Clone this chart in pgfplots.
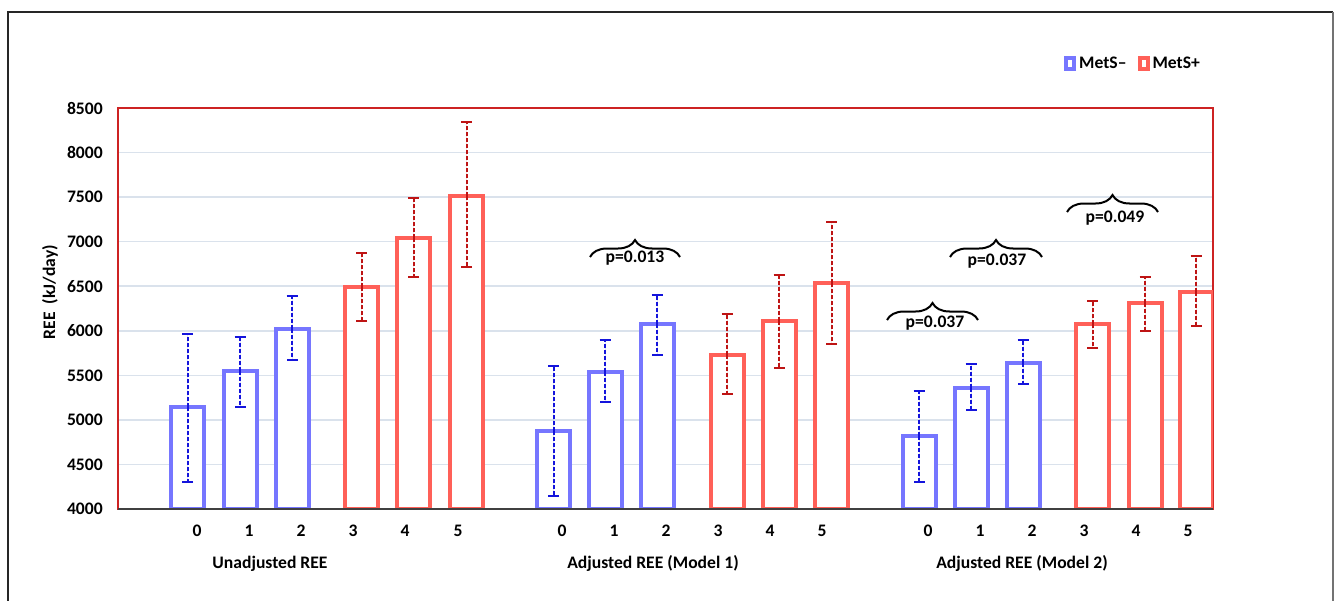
\documentclass[border=0pt]{standalone}
\usepackage{fontspec}
\setmainfont{Carlito}
\usepackage{pgfplots}
\pgfplotsset{compat=1.18}
\usetikzlibrary{decorations.pathreplacing}
\definecolor{barblue}{RGB}{118,118,255}
\definecolor{barred}{RGB}{255,96,88}
\definecolor{errblue}{RGB}{20,20,220}
\definecolor{errred}{RGB}{190,20,20}
\definecolor{framered}{RGB}{205,35,35}
\definecolor{gridc}{RGB}{218,226,236}
\begin{document}
\fontsize{8.8}{10}\selectfont\bfseries
\begin{tikzpicture}[x=0.5pt,y=0.5pt]
\useasboundingbox (0,0) rectangle (1337,600);
\draw[line width=1pt, black!85] (8,-5) -- (8,588) -- (1333,588);
\draw[line width=1pt, black!55] (1333,588) -- (1333,-5);
\begin{axis}[
  at={(59pt,45.5pt)}, anchor=south west,
  scale only axis, width=547.5pt, height=200.5pt,
  xmin=118, xmax=1213, ymin=4000, ymax=8500,
  ytick={4000,4500,...,8500},
  xtick={197,249,301,353,405,458,562,614,666,718,770,822,928,980,1032,1084,1136,1188},
  xticklabels={0,1,2,3,4,5,0,1,2,3,4,5,0,1,2,3,4,5},
  major tick length=0pt,
  ymajorgrids, grid style={gridc, line width=0.8pt},
  axis line style={framered, line width=0.9pt},
  /pgf/number format/assume math mode=true,
  /pgf/number format/1000 sep={},
  yticklabel style={xshift=-4.5pt},
  xticklabel style={anchor=base, yshift=-13.8pt},
  ylabel={REE\ \ (kJ/day)},
  ylabel style={at={(rel axis cs:-0.0621,0.541)}, anchor=center},
  clip mode=individual,
  legend style={at={(rel axis cs:0.9274,1.1085)}, anchor=center, draw=none, fill=none,
    legend columns=2, /tikz/every even column/.append style={column sep=4pt},
    nodes={inner sep=1.5pt}},
]
\addplot[ybar, bar width=16.5pt, bar shift=0pt, draw=barblue, fill=white, line width=2pt,
  legend image code/.code={\draw[draw=barblue, line width=2pt, fill=white] (0pt,-2.5pt) rectangle (4pt,3pt);},
  error bars/.cd, y dir=both, y explicit,
  error bar style={errblue, line width=1pt, dash pattern=on 2pt off 1pt},
  error mark options={rotate=90, mark size=2.75pt, line width=1pt, errblue, solid}]
  table[x=x, y=y, y error plus=ep, y error minus=em] {
x y ep em
187.5 5145 819 842
240 5548 382 403
292 6020 370 348
553.5 4875 730 729
605 5537 359 337
657 6076 325 348
919 4819 505 516
971 5358 269 247
1023 5638 258 235
};
\addlegendentry{MetS–}
\addplot[ybar, bar width=16.5pt, bar shift=0pt, draw=barred, fill=white, line width=2pt,
  legend image code/.code={\draw[draw=barred, line width=2pt, fill=white] (0pt,-2.5pt) rectangle (4pt,3pt);},
  error bars/.cd, y dir=both, y explicit,
  error bar style={errred, line width=1pt, dash pattern=on 2pt off 1pt},
  error mark options={rotate=90, mark size=2.75pt, line width=1pt, errred, solid}]
  table[x=x, y=y, y error plus=ep, y error minus=em] {
x y ep em
361.5 6491 382 381
413.5 7041 449 438
466.5 7512 830 797
727 5728 460 438
779 6110 516 528
831.5 6536 684 685
1092.5 6076 258 269
1145 6311 292 314
1196 6435 404 382
};
\addlegendentry{MetS+}
\draw[black!75, line width=1pt] (rel axis cs:0,0) -- (rel axis cs:1,0);
% group labels
\node[anchor=base] at (axis cs:270,4000) [yshift=-29.5pt] {Unadjusted REE};
\node[anchor=base] at (axis cs:653,4000) [yshift=-29.5pt] {Adjusted REE (Model 1)};
\node[anchor=base] at (axis cs:1022,4000) [yshift=-29.5pt] {Adjusted REE (Model 2)};
% braces and p-values
\draw[decorate, decoration={brace, amplitude=8.5pt}, line width=1pt] (axis cs:590,6828) -- (axis cs:680,6828);
\node[anchor=base] at (axis cs:635,6761) {p=0.013};
\draw[decorate, decoration={brace, amplitude=8.5pt}, line width=1pt] (axis cs:887,6121) -- (axis cs:978,6121);
\node[anchor=base] at (axis cs:935,6042) {p=0.037};
\draw[decorate, decoration={brace, amplitude=8.5pt}, line width=1pt] (axis cs:950,6828) -- (axis cs:1042,6828);
\node[anchor=base] at (axis cs:997,6738) {p=0.037};
\draw[decorate, decoration={brace, amplitude=8.5pt}, line width=1pt] (axis cs:1067,7333) -- (axis cs:1158,7333);
\node[anchor=base] at (axis cs:1115,7210) {p=0.049};
\end{axis}
\end{tikzpicture}
\end{document}
